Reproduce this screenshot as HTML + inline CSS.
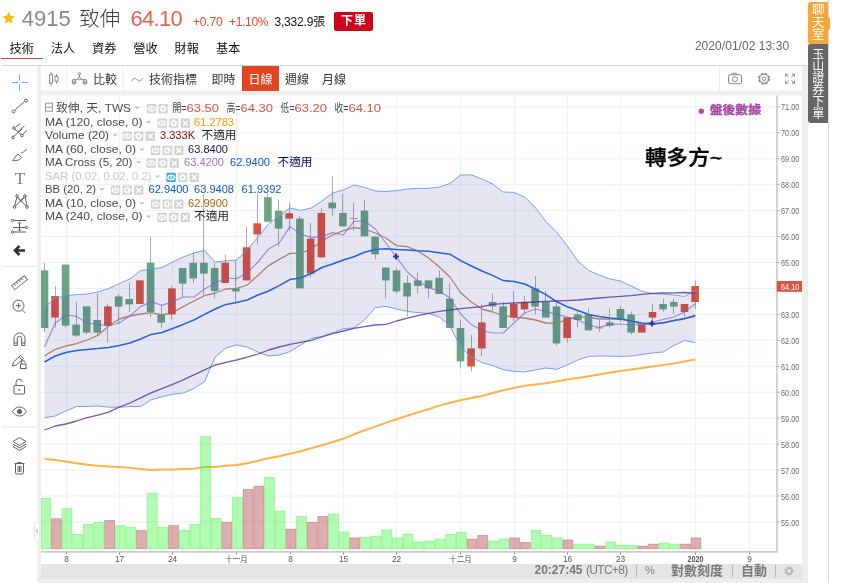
<!DOCTYPE html>
<html lang="zh-Hant">
<head>
<meta charset="utf-8">
<title>4915 致伸 - 技術分析</title>
<style>
*{box-sizing:border-box;margin:0;padding:0}
html,body{width:845px;height:583px;overflow:hidden;background:#fff}
body{position:relative;font-family:"Liberation Sans","Noto Sans CJK TC","Noto Sans CJK SC",sans-serif;font-size:12px;color:#333}
.abs{position:absolute;white-space:nowrap;line-height:1}
#hdr .code{left:21.8px;top:7.8px;font-size:22px;color:#8a8a8a}
#hdr .name{left:79.200px;top:8.800px;font-size:20.500px;color:#3a3a3a;font-weight:300}
#hdr .price{left:130.5px;top:7.8px;font-size:22px;color:#e8614a;letter-spacing:-.7px}
#hdr .chg{left:193px;top:16px;font-size:12px;color:#e34a28;letter-spacing:-.2px}
#hdr .chg2{left:229px;top:16px;font-size:12px;color:#e34a28;letter-spacing:-.3px}
#hdr .vol{left:274.5px;top:15.500px;font-size:12px;color:#111;letter-spacing:-.2px}
#hdr .order{left:334px;top:12px;width:38.800px;height:18.5px;background:#d0021b;color:#fff;font-weight:bold;font-size:12px;text-align:center;line-height:18px;border-radius:2px;letter-spacing:1px;text-indent:1px}
#tabs a{position:absolute;top:42.2px;margin-left:-.9px;height:16.8px;width:41.4px;text-align:center;font-size:12.2px;line-height:14px;color:#111;text-decoration:none;white-space:nowrap}
#tabs a.on{border-bottom:1px solid #e2434b}
#date{left:694.9px;top:40.2px;font-size:12px;color:#666;letter-spacing:.05px}
#side .chat{left:808px;top:2px;width:20.3px;height:42px;background:#f7a738;border-radius:3px 0 0 2px;color:#fff;font-size:12.500px;line-height:12.300px;text-align:center;padding-top:2.300px;white-space:normal}
#side .nub{left:827px;top:17px;width:3.2px;height:12.5px;background:#f7a738;border-radius:0 2px 2px 0}
#side .ord{left:808px;top:44px;width:20.3px;height:78.5px;background:#676567;border-radius:2px 0 0 3px;color:#fff;font-size:12px;line-height:11.9px;text-align:center;padding-top:5.5px;white-space:normal}
#side .vline{left:828px;top:0;width:1px;height:583px;background:#dadada}
#chart{position:absolute;left:0;top:0;width:845px;height:583px}
#chart text{font-family:"Liberation Sans","Noto Sans CJK TC","Noto Sans CJK SC",sans-serif}
#chart .ax{font-size:8.3px;fill:#6a6a6a}
#chart .tx{font-size:8.3px;fill:#555}
#chart .tx.b{font-weight:bold}
#chart .lg{font-size:11.5px}
.tb{top:66px;height:25px;line-height:29px;font-size:12px;color:#333}
.tb.on{background:#e0461f;color:#fff;text-align:center}
#foot span{top:563.2px;height:15px;line-height:15px;font-size:12px;color:#7a7a7a}
#foot .b{font-weight:bold}
</style>
</head>
<body>
<div id="hdr">
<svg class="abs" style="left:2px;top:11.3px" width="13.5" height="13.5" viewBox="0 0 24 24"><path d="M12 1.5l3.3 7 7.4 1-5.4 5.2 1.4 7.6L12 18.6 5.3 22.3l1.400-7.6L1.300 9.500l7.400-1z" fill="#fbb917"/></svg>
<span class="abs code">4915</span>
<span class="abs name">致伸</span>
<span class="abs price">64.10</span>
<span class="abs chg">+0.70</span>
<span class="abs chg2">+1.10%</span>
<span class="abs vol">3,332.9張</span>
<span class="abs order">下單</span>
</div>
<nav id="tabs">
<a class="on" style="left:2px">技術</a>
<a style="left:43.2px">法人</a>
<a style="left:84.4px">資券</a>
<a style="left:125.6px">營收</a>
<a style="left:167px">財報</a>
<a style="left:208.5px">基本</a>
</nav>
<span id="date" class="abs">2020/01/02 13:30</span>
<svg id="chart" width="845" height="583" viewBox="0 0 845 583">
<rect x="37.3" y="65.5" width="770.7" height="518" fill="#eeeeee"/>
<rect x="2" y="65" width="805" height="1" fill="#d4d8dc"/>
<rect x="40.9" y="66" width="25.2" height="24.8" rx="2" fill="#fff"/>
<rect x="40.9" y="66" width="25.2" height="6" fill="#fff"/>
<rect x="66.9" y="66" width="55.4" height="24.8" rx="2" fill="#fff"/>
<rect x="66.9" y="66" width="55.4" height="6" fill="#fff"/>
<rect x="123.3" y="66" width="595.7" height="24.8" rx="2" fill="#fff"/>
<rect x="123.3" y="66" width="595.7" height="6" fill="#fff"/>
<rect x="720" y="66" width="82" height="24.8" rx="2" fill="#fff"/>
<rect x="720" y="66" width="82" height="6" fill="#fff"/>
<rect x="40.9" y="95.5" width="761.1" height="468.4" rx="1.5" fill="#fff"/>
<rect x="41" y="563.9" width="761" height="15" fill="#e5e5e5"/>
<rect x="41" y="521.50" width="735.5" height="1" fill="#eaf2f7"/>
<rect x="41" y="495.55" width="735.5" height="1" fill="#eaf2f7"/>
<rect x="41" y="469.60" width="735.5" height="1" fill="#eaf2f7"/>
<rect x="41" y="443.65" width="735.5" height="1" fill="#eaf2f7"/>
<rect x="41" y="417.70" width="735.5" height="1" fill="#eaf2f7"/>
<rect x="41" y="391.75" width="735.5" height="1" fill="#eaf2f7"/>
<rect x="41" y="365.80" width="735.5" height="1" fill="#eaf2f7"/>
<rect x="41" y="339.85" width="735.5" height="1" fill="#eaf2f7"/>
<rect x="41" y="313.90" width="735.5" height="1" fill="#eaf2f7"/>
<rect x="41" y="287.95" width="735.5" height="1" fill="#eaf2f7"/>
<rect x="41" y="262.00" width="735.5" height="1" fill="#eaf2f7"/>
<rect x="41" y="236.05" width="735.5" height="1" fill="#eaf2f7"/>
<rect x="41" y="210.10" width="735.5" height="1" fill="#eaf2f7"/>
<rect x="41" y="184.15" width="735.5" height="1" fill="#eaf2f7"/>
<rect x="41" y="158.20" width="735.5" height="1" fill="#eaf2f7"/>
<rect x="41" y="132.25" width="735.5" height="1" fill="#eaf2f7"/>
<rect x="41" y="106.30" width="735.5" height="1" fill="#eaf2f7"/>
<rect x="66" y="95.4" width="1" height="454" fill="#ecf2f7"/>
<rect x="119" y="95.4" width="1" height="454" fill="#ecf2f7"/>
<rect x="172" y="95.4" width="1" height="454" fill="#ecf2f7"/>
<rect x="236" y="95.4" width="1" height="454" fill="#ecf2f7"/>
<rect x="290" y="95.4" width="1" height="454" fill="#ecf2f7"/>
<rect x="343" y="95.4" width="1" height="454" fill="#ecf2f7"/>
<rect x="396" y="95.4" width="1" height="454" fill="#ecf2f7"/>
<rect x="460" y="95.4" width="1" height="454" fill="#ecf2f7"/>
<rect x="514" y="95.4" width="1" height="454" fill="#ecf2f7"/>
<rect x="567" y="95.4" width="1" height="454" fill="#ecf2f7"/>
<rect x="620" y="95.4" width="1" height="454" fill="#ecf2f7"/>
<rect x="695" y="95.4" width="1" height="454" fill="#ecf2f7"/>
<rect x="749" y="95.4" width="1" height="454" fill="#ecf2f7"/>
<g id="pane">
<polyline points="44.5,459 55.2,460 65.9,461.5 76.6,463.2 87.2,464.7 97.9,465.7 108.6,466.4 119.2,467 129.9,467.7 140.6,469 151.2,470 161.9,469.4 172.6,469.4 183.2,469 193.9,468.7 204.6,467 215.2,467 225.9,465.7 236.6,465 247.2,463.2 257.9,460.8 268.6,458.2 279.2,456.2 289.9,453.8 300.6,451.2 311.2,448.2 321.9,445.2 332.6,442 343.3,438.8 353.9,434.3 364.6,430.3 375.3,426.6 385.9,422.9 396.6,419.2 407.3,415.7 417.9,412.4 428.6,409.2 439.3,405.6 449.9,402.8 460.6,400.2 471.3,398 481.9,396 492.6,393 503.3,390.2 513.9,388 524.6,385.8 535.3,384.5 545.9,383.2 556.6,381.4 567.3,379.5 577.9,377.9 588.6,376.2 599.3,374.4 610,372.5 620.6,371 631.3,369.5 642,368 652.6,366.5 663.3,365 674,363.5 684.6,361.6 695.3,359.6" fill="none" stroke="#ffb24a" stroke-width="2" stroke-linejoin="round"/>
<rect x="41.4" y="498.3" width="9.2" height="50.5" fill="rgba(30,245,25,0.34)" stroke="rgba(30,230,25,0.35)" stroke-width="0.8"/>
<rect x="51.4" y="518.7" width="9.9" height="30.1" fill="rgba(170,45,50,0.39)" stroke="rgba(160,40,45,0.35)" stroke-width="0.8"/>
<rect x="62" y="508.7" width="9.9" height="40.1" fill="rgba(30,245,25,0.34)" stroke="rgba(30,230,25,0.35)" stroke-width="0.8"/>
<rect x="72.7" y="534.4" width="9.9" height="14.4" fill="rgba(30,245,25,0.34)" stroke="rgba(30,230,25,0.35)" stroke-width="0.8"/>
<rect x="83.3" y="524.4" width="9.9" height="24.4" fill="rgba(30,245,25,0.34)" stroke="rgba(30,230,25,0.35)" stroke-width="0.8"/>
<rect x="94" y="522.4" width="9.9" height="26.4" fill="rgba(30,245,25,0.34)" stroke="rgba(30,230,25,0.35)" stroke-width="0.8"/>
<rect x="104.7" y="520.4" width="9.9" height="28.4" fill="rgba(170,45,50,0.39)" stroke="rgba(160,40,45,0.35)" stroke-width="0.8"/>
<rect x="115.3" y="525.6" width="9.9" height="23.2" fill="rgba(30,245,25,0.34)" stroke="rgba(30,230,25,0.35)" stroke-width="0.8"/>
<rect x="126" y="527.4" width="9.9" height="21.4" fill="rgba(30,245,25,0.34)" stroke="rgba(30,230,25,0.35)" stroke-width="0.8"/>
<rect x="136.6" y="530.4" width="9.9" height="18.4" fill="rgba(170,45,50,0.39)" stroke="rgba(160,40,45,0.35)" stroke-width="0.8"/>
<rect x="147.3" y="493.4" width="9.9" height="55.4" fill="rgba(30,245,25,0.34)" stroke="rgba(30,230,25,0.35)" stroke-width="0.8"/>
<rect x="158" y="527.4" width="9.9" height="21.4" fill="rgba(30,245,25,0.34)" stroke="rgba(30,230,25,0.35)" stroke-width="0.8"/>
<rect x="168.6" y="525.6" width="9.9" height="23.2" fill="rgba(170,45,50,0.39)" stroke="rgba(160,40,45,0.35)" stroke-width="0.8"/>
<rect x="179.3" y="530.4" width="9.9" height="18.4" fill="rgba(30,245,25,0.34)" stroke="rgba(30,230,25,0.35)" stroke-width="0.8"/>
<rect x="189.9" y="524.4" width="9.9" height="24.4" fill="rgba(30,245,25,0.34)" stroke="rgba(30,230,25,0.35)" stroke-width="0.8"/>
<rect x="200.6" y="436.6" width="9.9" height="112.2" fill="rgba(30,245,25,0.34)" stroke="rgba(30,230,25,0.35)" stroke-width="0.8"/>
<rect x="211.3" y="518.4" width="9.9" height="30.4" fill="rgba(30,245,25,0.34)" stroke="rgba(30,230,25,0.35)" stroke-width="0.8"/>
<rect x="221.9" y="522.4" width="9.9" height="26.4" fill="rgba(170,45,50,0.39)" stroke="rgba(160,40,45,0.35)" stroke-width="0.8"/>
<rect x="232.6" y="497.4" width="9.9" height="51.4" fill="rgba(30,245,25,0.34)" stroke="rgba(30,230,25,0.35)" stroke-width="0.8"/>
<rect x="243.2" y="489.4" width="9.9" height="59.4" fill="rgba(170,45,50,0.39)" stroke="rgba(160,40,45,0.35)" stroke-width="0.8"/>
<rect x="253.9" y="486.1" width="9.9" height="62.6" fill="rgba(170,45,50,0.39)" stroke="rgba(160,40,45,0.35)" stroke-width="0.8"/>
<rect x="264.6" y="477.4" width="9.9" height="71.4" fill="rgba(30,245,25,0.34)" stroke="rgba(30,230,25,0.35)" stroke-width="0.8"/>
<rect x="275.2" y="511.1" width="9.9" height="37.6" fill="rgba(30,245,25,0.34)" stroke="rgba(30,230,25,0.35)" stroke-width="0.8"/>
<rect x="285.9" y="529.1" width="9.9" height="19.6" fill="rgba(170,45,50,0.39)" stroke="rgba(160,40,45,0.35)" stroke-width="0.8"/>
<rect x="296.5" y="516.4" width="9.9" height="32.4" fill="rgba(30,245,25,0.34)" stroke="rgba(30,230,25,0.35)" stroke-width="0.8"/>
<rect x="307.2" y="522.4" width="9.9" height="26.4" fill="rgba(170,45,50,0.39)" stroke="rgba(160,40,45,0.35)" stroke-width="0.8"/>
<rect x="317.9" y="516.4" width="9.9" height="32.4" fill="rgba(170,45,50,0.39)" stroke="rgba(160,40,45,0.35)" stroke-width="0.8"/>
<rect x="328.5" y="514.1" width="9.9" height="34.6" fill="rgba(30,245,25,0.34)" stroke="rgba(30,230,25,0.35)" stroke-width="0.8"/>
<rect x="339.2" y="531.9" width="9.9" height="16.9" fill="rgba(30,245,25,0.34)" stroke="rgba(30,230,25,0.35)" stroke-width="0.8"/>
<rect x="349.8" y="537.9" width="9.9" height="10.9" fill="rgba(170,45,50,0.39)" stroke="rgba(160,40,45,0.35)" stroke-width="0.8"/>
<rect x="360.5" y="537.4" width="9.9" height="11.4" fill="rgba(30,245,25,0.34)" stroke="rgba(30,230,25,0.35)" stroke-width="0.8"/>
<rect x="371.2" y="536.1" width="9.9" height="12.6" fill="rgba(30,245,25,0.34)" stroke="rgba(30,230,25,0.35)" stroke-width="0.8"/>
<rect x="381.8" y="529.9" width="9.9" height="18.9" fill="rgba(30,245,25,0.34)" stroke="rgba(30,230,25,0.35)" stroke-width="0.8"/>
<rect x="392.5" y="537.9" width="9.9" height="10.9" fill="rgba(30,245,25,0.34)" stroke="rgba(30,230,25,0.35)" stroke-width="0.8"/>
<rect x="403.1" y="534.1" width="9.9" height="14.6" fill="rgba(30,245,25,0.34)" stroke="rgba(30,230,25,0.35)" stroke-width="0.8"/>
<rect x="413.8" y="541.9" width="9.9" height="6.9" fill="rgba(30,245,25,0.34)" stroke="rgba(30,230,25,0.35)" stroke-width="0.8"/>
<rect x="424.5" y="541.1" width="9.9" height="7.6" fill="rgba(30,245,25,0.34)" stroke="rgba(30,230,25,0.35)" stroke-width="0.8"/>
<rect x="435.1" y="539.1" width="9.9" height="9.6" fill="rgba(30,245,25,0.34)" stroke="rgba(30,230,25,0.35)" stroke-width="0.8"/>
<rect x="445.8" y="534.4" width="9.9" height="14.4" fill="rgba(30,245,25,0.34)" stroke="rgba(30,230,25,0.35)" stroke-width="0.8"/>
<rect x="456.4" y="532.4" width="9.9" height="16.4" fill="rgba(30,245,25,0.34)" stroke="rgba(30,230,25,0.35)" stroke-width="0.8"/>
<rect x="467.1" y="539.1" width="9.9" height="9.6" fill="rgba(170,45,50,0.39)" stroke="rgba(160,40,45,0.35)" stroke-width="0.8"/>
<rect x="477.8" y="535.4" width="9.9" height="13.4" fill="rgba(170,45,50,0.39)" stroke="rgba(160,40,45,0.35)" stroke-width="0.8"/>
<rect x="488.4" y="541.1" width="9.9" height="7.6" fill="rgba(30,245,25,0.34)" stroke="rgba(30,230,25,0.35)" stroke-width="0.8"/>
<rect x="499.1" y="539.1" width="9.9" height="9.6" fill="rgba(30,245,25,0.34)" stroke="rgba(30,230,25,0.35)" stroke-width="0.8"/>
<rect x="509.7" y="537.9" width="9.9" height="10.9" fill="rgba(170,45,50,0.39)" stroke="rgba(160,40,45,0.35)" stroke-width="0.8"/>
<rect x="520.4" y="542.4" width="9.9" height="6.4" fill="rgba(170,45,50,0.39)" stroke="rgba(160,40,45,0.35)" stroke-width="0.8"/>
<rect x="531.1" y="530.4" width="9.9" height="18.4" fill="rgba(30,245,25,0.34)" stroke="rgba(30,230,25,0.35)" stroke-width="0.8"/>
<rect x="541.7" y="535.4" width="9.9" height="13.4" fill="rgba(30,245,25,0.34)" stroke="rgba(30,230,25,0.35)" stroke-width="0.8"/>
<rect x="552.4" y="537.9" width="9.9" height="10.9" fill="rgba(30,245,25,0.34)" stroke="rgba(30,230,25,0.35)" stroke-width="0.8"/>
<rect x="563" y="539.9" width="9.9" height="8.9" fill="rgba(170,45,50,0.39)" stroke="rgba(160,40,45,0.35)" stroke-width="0.8"/>
<rect x="573.7" y="544.1" width="9.9" height="4.6" fill="rgba(30,245,25,0.34)" stroke="rgba(30,230,25,0.35)" stroke-width="0.8"/>
<rect x="584.4" y="544.1" width="9.9" height="4.6" fill="rgba(30,245,25,0.34)" stroke="rgba(30,230,25,0.35)" stroke-width="0.8"/>
<rect x="595" y="546.1" width="9.9" height="2.6" fill="rgba(170,45,50,0.39)" stroke="rgba(160,40,45,0.35)" stroke-width="0.8"/>
<rect x="605.7" y="541.9" width="9.9" height="6.9" fill="rgba(30,245,25,0.34)" stroke="rgba(30,230,25,0.35)" stroke-width="0.8"/>
<rect x="616.3" y="545.4" width="9.9" height="3.4" fill="rgba(30,245,25,0.34)" stroke="rgba(30,230,25,0.35)" stroke-width="0.8"/>
<rect x="627" y="545.4" width="9.9" height="3.4" fill="rgba(30,245,25,0.34)" stroke="rgba(30,230,25,0.35)" stroke-width="0.8"/>
<rect x="637.7" y="546.1" width="9.9" height="2.6" fill="rgba(170,45,50,0.39)" stroke="rgba(160,40,45,0.35)" stroke-width="0.8"/>
<rect x="648.3" y="544.1" width="9.9" height="4.6" fill="rgba(170,45,50,0.39)" stroke="rgba(160,40,45,0.35)" stroke-width="0.8"/>
<rect x="659" y="543.1" width="9.9" height="5.6" fill="rgba(30,245,25,0.34)" stroke="rgba(30,230,25,0.35)" stroke-width="0.8"/>
<rect x="669.6" y="544.1" width="9.9" height="4.6" fill="rgba(30,245,25,0.34)" stroke="rgba(30,230,25,0.35)" stroke-width="0.8"/>
<rect x="680.3" y="544.1" width="9.9" height="4.6" fill="rgba(170,45,50,0.39)" stroke="rgba(160,40,45,0.35)" stroke-width="0.8"/>
<rect x="691" y="537.9" width="9.9" height="10.9" fill="rgba(170,45,50,0.39)" stroke="rgba(160,40,45,0.35)" stroke-width="0.8"/>
<polyline points="44.5,356 55.2,349.4 65.9,346 76.6,343.6 87.2,340 97.9,335.4 108.6,326 119.2,319 129.9,316 140.6,314 151.2,312.6 161.9,315 172.6,312.6 183.2,306.6 193.9,301 204.6,295.6 215.2,293 225.9,289 236.6,288.4 247.2,285 257.9,275.4 268.6,265.6 279.2,259.4 289.9,253.4 300.6,253.4 311.2,249 321.9,241 332.6,235 343.3,230.6 353.9,227.6 364.6,229 375.3,233 385.9,238 396.6,245.6 407.3,246.6 417.9,251 428.6,258 439.3,267 449.9,277 460.6,292.5 471.3,302 481.9,309 492.6,312 503.3,315.6 513.9,317.4 524.6,318 535.3,320 545.9,323 556.6,323.4 567.3,319.4 577.9,316.6 588.6,317.4 599.3,319 610,319 620.6,319 631.3,321 642,324.4 652.6,324 663.3,322.4 674,320.6 684.6,319 695.3,314.9" fill="none" stroke="#c48f64" stroke-width="1.3" stroke-linejoin="round"/>
<rect x="44" y="263" width="1" height="69" fill="#acacaf"/>
<rect x="41" y="270.4" width="7.3" height="57.6" fill="#6ba583"/>
<rect x="55" y="286" width="1" height="41.6" fill="#acacaf"/>
<rect x="51.2" y="296" width="7.6" height="21.6" fill="#d75442"/>
<rect x="65" y="264.6" width="1" height="63" fill="#acacaf"/>
<rect x="61.8" y="264.6" width="7.6" height="61" fill="#6ba583"/>
<rect x="76" y="302" width="1" height="35" fill="#acacaf"/>
<rect x="72.3" y="324.6" width="7.6" height="11" fill="#6ba583"/>
<rect x="86" y="306.4" width="1" height="28.2" fill="#acacaf"/>
<rect x="82.9" y="306.4" width="7.6" height="26.2" fill="#6ba583"/>
<rect x="97" y="293.6" width="1" height="41.4" fill="#acacaf"/>
<rect x="93.4" y="320" width="7.6" height="12.6" fill="#6ba583"/>
<rect x="107" y="304" width="1" height="38.4" fill="#acacaf"/>
<rect x="104.1" y="306.4" width="7.6" height="19.2" fill="#d75442"/>
<rect x="118" y="294" width="1" height="30" fill="#acacaf"/>
<rect x="114.8" y="296.4" width="7.6" height="10.2" fill="#6ba583"/>
<rect x="129" y="283" width="1" height="29" fill="#acacaf"/>
<rect x="125.4" y="299" width="7.6" height="5.4" fill="#6ba583"/>
<rect x="139" y="280.4" width="1" height="23.6" fill="#acacaf"/>
<rect x="136.1" y="280.4" width="7.6" height="23.6" fill="#d75442"/>
<rect x="150" y="236.7" width="1" height="80.3" fill="#acacaf"/>
<rect x="146.8" y="262.6" width="7.6" height="49.4" fill="#6ba583"/>
<rect x="161" y="306" width="1" height="22" fill="#acacaf"/>
<rect x="157.4" y="314.4" width="7.6" height="8.2" fill="#6ba583"/>
<rect x="171" y="286" width="1" height="33.6" fill="#acacaf"/>
<rect x="168.1" y="288.4" width="7.6" height="26" fill="#d75442"/>
<rect x="182" y="268" width="1" height="29" fill="#acacaf"/>
<rect x="178.8" y="268" width="7.6" height="15.6" fill="#6ba583"/>
<rect x="193" y="252.5" width="1" height="30.5" fill="#acacaf"/>
<rect x="189.4" y="262.8" width="7.6" height="15.6" fill="#6ba583"/>
<rect x="203" y="194" width="1" height="101" fill="#acacaf"/>
<rect x="200.1" y="262.8" width="7.6" height="10.8" fill="#6ba583"/>
<rect x="214" y="262.8" width="1" height="35.2" fill="#acacaf"/>
<rect x="210.8" y="268" width="7.6" height="23" fill="#6ba583"/>
<rect x="225" y="254.5" width="1" height="28.5" fill="#acacaf"/>
<rect x="221.4" y="262.8" width="7.6" height="20.2" fill="#d75442"/>
<rect x="235" y="260" width="1" height="43" fill="#acacaf"/>
<rect x="232.1" y="288.4" width="7.6" height="3" fill="#6ba583"/>
<rect x="246" y="226.7" width="1" height="53.7" fill="#acacaf"/>
<rect x="242.8" y="247.3" width="7.6" height="33.1" fill="#d75442"/>
<rect x="257" y="192.5" width="1" height="52.1" fill="#acacaf"/>
<rect x="253.4" y="223.3" width="7.6" height="11.2" fill="#d75442"/>
<rect x="267" y="193.3" width="1" height="28.4" fill="#acacaf"/>
<rect x="264.1" y="197.2" width="7.6" height="24.5" fill="#6ba583"/>
<rect x="278" y="200" width="1" height="46.6" fill="#acacaf"/>
<rect x="274.8" y="210.7" width="7.6" height="17.9" fill="#6ba583"/>
<rect x="289" y="202.5" width="1" height="28.1" fill="#acacaf"/>
<rect x="285.4" y="213.2" width="7.6" height="5.5" fill="#d75442"/>
<rect x="299" y="216" width="1" height="72.4" fill="#acacaf"/>
<rect x="296.1" y="218.6" width="7.6" height="69.8" fill="#6ba583"/>
<rect x="310" y="223" width="1" height="54.6" fill="#acacaf"/>
<rect x="306.9" y="238.6" width="7.6" height="35" fill="#d75442"/>
<rect x="321" y="208" width="1" height="49.4" fill="#acacaf"/>
<rect x="317.6" y="213" width="7.6" height="44.4" fill="#d75442"/>
<rect x="332" y="176.5" width="1" height="39.1" fill="#acacaf"/>
<rect x="328.4" y="202.6" width="7.6" height="5.8" fill="#6ba583"/>
<rect x="342" y="194" width="1" height="32.4" fill="#acacaf"/>
<rect x="339.1" y="213" width="7.6" height="13.4" fill="#6ba583"/>
<rect x="353" y="202.6" width="1" height="28" fill="#acacaf"/>
<rect x="349.9" y="218" width="7.6" height="1" fill="#e28a84"/>
<rect x="364" y="200" width="1" height="36.4" fill="#acacaf"/>
<rect x="360.7" y="210.6" width="7.6" height="25.8" fill="#6ba583"/>
<rect x="375" y="236.6" width="1" height="22.8" fill="#acacaf"/>
<rect x="371.3" y="236.6" width="7.6" height="17.8" fill="#6ba583"/>
<rect x="385" y="267.6" width="1" height="30.8" fill="#acacaf"/>
<rect x="382" y="267.6" width="7.6" height="12.8" fill="#6ba583"/>
<rect x="396" y="267.6" width="1" height="26" fill="#acacaf"/>
<rect x="392.7" y="270.4" width="7.6" height="21" fill="#6ba583"/>
<rect x="407" y="275.6" width="1" height="40.8" fill="#acacaf"/>
<rect x="403.3" y="282.8" width="7.6" height="13.7" fill="#6ba583"/>
<rect x="417" y="272.6" width="1" height="21" fill="#acacaf"/>
<rect x="414" y="280.4" width="7.6" height="5.6" fill="#6ba583"/>
<rect x="428" y="280.4" width="1" height="18" fill="#acacaf"/>
<rect x="424.7" y="280.4" width="7.6" height="8" fill="#6ba583"/>
<rect x="439" y="270.6" width="1" height="23.4" fill="#acacaf"/>
<rect x="435.3" y="277.8" width="7.6" height="16.2" fill="#6ba583"/>
<rect x="449" y="282.8" width="1" height="45.2" fill="#acacaf"/>
<rect x="446" y="298.7" width="7.6" height="29.3" fill="#6ba583"/>
<rect x="460" y="320" width="1" height="48.4" fill="#acacaf"/>
<rect x="456.7" y="328" width="7.6" height="33.4" fill="#6ba583"/>
<rect x="471" y="335" width="1" height="36.4" fill="#acacaf"/>
<rect x="467.3" y="348.4" width="7.6" height="18" fill="#d75442"/>
<rect x="481" y="304" width="1" height="52" fill="#acacaf"/>
<rect x="478" y="322.4" width="7.6" height="26" fill="#d75442"/>
<rect x="492" y="293.6" width="1" height="18.4" fill="#acacaf"/>
<rect x="488.7" y="302" width="7.6" height="4.4" fill="#6ba583"/>
<rect x="503" y="302" width="1" height="26" fill="#acacaf"/>
<rect x="499.3" y="306.4" width="7.6" height="21.6" fill="#6ba583"/>
<rect x="513" y="291" width="1" height="30" fill="#acacaf"/>
<rect x="510" y="304" width="7.6" height="13.4" fill="#d75442"/>
<rect x="524" y="296" width="1" height="18" fill="#acacaf"/>
<rect x="520.7" y="302" width="7.6" height="7.4" fill="#d75442"/>
<rect x="535" y="276" width="1" height="38.4" fill="#acacaf"/>
<rect x="531.3" y="288.4" width="7.6" height="18.2" fill="#6ba583"/>
<rect x="545" y="291" width="1" height="26.6" fill="#acacaf"/>
<rect x="542" y="302" width="7.6" height="15.6" fill="#6ba583"/>
<rect x="556" y="301" width="1" height="44.6" fill="#acacaf"/>
<rect x="552.7" y="306.4" width="7.6" height="37" fill="#6ba583"/>
<rect x="567" y="317.4" width="1" height="25.2" fill="#acacaf"/>
<rect x="563.3" y="317.4" width="7.6" height="20.6" fill="#d75442"/>
<rect x="577" y="311" width="1" height="16.4" fill="#acacaf"/>
<rect x="574" y="314.4" width="7.6" height="5.6" fill="#6ba583"/>
<rect x="588" y="308.6" width="1" height="21.8" fill="#acacaf"/>
<rect x="584.7" y="314.4" width="7.6" height="16" fill="#6ba583"/>
<rect x="599" y="319.4" width="1" height="12.6" fill="#acacaf"/>
<rect x="595.3" y="327.5" width="7.6" height="1" fill="#e28a84"/>
<rect x="609" y="308.6" width="1" height="18.8" fill="#acacaf"/>
<rect x="606" y="322.4" width="7.6" height="3.2" fill="#6ba583"/>
<rect x="620" y="306" width="1" height="16" fill="#acacaf"/>
<rect x="616.7" y="309" width="7.6" height="11" fill="#6ba583"/>
<rect x="631" y="311.6" width="1" height="23" fill="#acacaf"/>
<rect x="627.3" y="314.4" width="7.6" height="18.2" fill="#6ba583"/>
<rect x="641" y="325" width="1" height="7.6" fill="#acacaf"/>
<rect x="638" y="325" width="7.6" height="7.6" fill="#d75442"/>
<rect x="652" y="303.6" width="1" height="21.4" fill="#acacaf"/>
<rect x="648.7" y="312" width="7.6" height="5.6" fill="#d75442"/>
<rect x="663" y="298.6" width="1" height="13" fill="#acacaf"/>
<rect x="659.3" y="304" width="7.6" height="5.4" fill="#6ba583"/>
<rect x="673" y="298.6" width="1" height="15.4" fill="#acacaf"/>
<rect x="670" y="302" width="7.6" height="4.6" fill="#6ba583"/>
<rect x="684" y="304" width="1" height="13" fill="#acacaf"/>
<rect x="680.7" y="304" width="7.6" height="8" fill="#d75442"/>
<rect x="695" y="280.5" width="1" height="28.5" fill="#acacaf"/>
<rect x="691.3" y="286" width="7.6" height="16" fill="#d75442"/>
<polygon points="44.5,307 55.2,298 65.9,296 76.6,294.6 87.2,294 97.9,292 108.6,288.6 119.2,283.6 129.9,279 140.6,270.6 151.2,269 161.9,267.6 172.6,262 183.2,257 193.9,253 204.6,250.4 215.2,262 225.9,261 236.6,260 247.2,250 257.9,237 268.6,224 279.2,216 289.9,208 300.6,210.4 311.2,208 321.9,201 332.6,193 343.3,190 353.9,185 364.6,187.4 375.3,191 385.9,191.5 396.6,190.6 407.3,189 417.9,188.4 428.6,188.4 439.3,187 449.9,183.5 460.6,175 471.3,174.8 481.9,179 492.6,184 503.3,192 513.9,192.4 524.6,197 535.3,207.5 545.9,221.5 556.6,232 567.3,246 577.9,261 588.6,270.5 599.3,275 610,279 620.6,281 631.3,286 642,291.4 652.6,293.6 663.3,294 674,295 684.6,296.4 695.3,290.3 695.3,342.7 684.6,340.5 674,345.4 663.3,352 652.6,353 642,354.4 631.3,356 620.6,356.4 610,356.2 599.3,356 588.6,356.4 577.9,360 567.3,365 556.6,369.4 545.9,368 535.3,370 524.6,372 513.9,371.4 503.3,369.6 492.6,365.6 481.9,362.6 471.3,357 460.6,347 449.9,326 439.3,317 428.6,313.4 417.9,312.6 407.3,311.4 396.6,309 385.9,306.4 375.3,307.6 364.6,320 353.9,328 343.3,328.6 332.6,333 321.9,336.4 311.2,338.4 300.6,345 289.9,351.6 279.2,355 268.6,356 257.9,352 247.2,347 236.6,345 225.9,348 215.2,357 204.6,381.6 193.9,388.6 183.2,393 172.6,394.3 161.9,396.8 151.2,399.8 140.6,406.5 129.9,406.5 119.2,407.2 108.6,407.2 97.9,406 87.2,406.5 76.6,406.5 65.9,411 55.2,416 44.5,417.7" fill="rgba(20,20,130,0.105)"/>
<polyline points="44.5,307 55.2,298 65.9,296 76.6,294.6 87.2,294 97.9,292 108.6,288.6 119.2,283.6 129.9,279 140.6,270.6 151.2,269 161.9,267.6 172.6,262 183.2,257 193.9,253 204.6,250.4 215.2,262 225.9,261 236.6,260 247.2,250 257.9,237 268.6,224 279.2,216 289.9,208 300.6,210.4 311.2,208 321.9,201 332.6,193 343.3,190 353.9,185 364.6,187.4 375.3,191 385.9,191.5 396.6,190.6 407.3,189 417.9,188.4 428.6,188.4 439.3,187 449.9,183.5 460.6,175 471.3,174.8 481.9,179 492.6,184 503.3,192 513.9,192.4 524.6,197 535.3,207.5 545.9,221.5 556.6,232 567.3,246 577.9,261 588.6,270.5 599.3,275 610,279 620.6,281 631.3,286 642,291.4 652.6,293.6 663.3,294 674,295 684.6,296.4 695.3,290.3" fill="none" stroke="#6496ea" stroke-width="0.9"/>
<polyline points="44.5,417.7 55.2,416 65.9,411 76.6,406.5 87.2,406.5 97.9,406 108.6,407.2 119.2,407.2 129.9,406.5 140.6,406.5 151.2,399.8 161.9,396.8 172.6,394.3 183.2,393 193.9,388.6 204.6,381.6 215.2,357 225.9,348 236.6,345 247.2,347 257.9,352 268.6,356 279.2,355 289.9,351.6 300.6,345 311.2,338.4 321.9,336.4 332.6,333 343.3,328.6 353.9,328 364.6,320 375.3,307.6 385.9,306.4 396.6,309 407.3,311.4 417.9,312.6 428.6,313.4 439.3,317 449.9,326 460.6,347 471.3,357 481.9,362.6 492.6,365.6 503.3,369.6 513.9,371.4 524.6,372 535.3,370 545.9,368 556.6,369.4 567.3,365 577.9,360 588.6,356.4 599.3,356 610,356.2 620.6,356.4 631.3,356 642,354.4 652.6,353 663.3,352 674,345.4 684.6,340.5 695.3,342.7" fill="none" stroke="#6496ea" stroke-width="0.9"/>
<polyline points="44.5,347 55.2,323 65.9,315 76.6,316.4 87.2,323 97.9,324.4 108.6,326 119.2,323 129.9,316 140.6,306.6 151.2,301.6 161.9,305.4 172.6,301.6 183.2,297 193.9,297 204.6,289 215.2,283 225.9,278 236.6,278.6 247.2,273 257.9,262 268.6,249 279.2,243 289.9,226.6 300.6,234 311.2,237.4 321.9,236.6 332.6,232.6 343.3,235 353.9,221.4 364.6,221 375.3,229 385.9,243 396.6,257.4 407.3,272 417.9,281 428.6,287.7 439.3,291 449.9,298 460.6,314 471.3,324.6 481.9,330.6 492.6,333 503.3,333 513.9,323 524.6,313 535.3,309 545.9,311.4 556.6,314.4 567.3,317 577.9,320 588.6,325 599.3,327.4 610,324.6 620.6,324 631.3,325 642,324.4 652.6,322 663.3,319.4 674,317 684.6,312 695.3,303.7" fill="none" stroke="rgba(122,92,202,0.66)" stroke-width="1.2" stroke-linejoin="round"/>
<polyline points="44.5,362 55.2,356 65.9,352.4 76.6,350.4 87.2,349.4 97.9,348.6 108.6,347.4 119.2,345.6 129.9,343 140.6,339 151.2,334.4 161.9,332.4 172.6,328.4 183.2,324.4 193.9,320 204.6,314.4 215.2,309 225.9,304.4 236.6,302.4 247.2,300 257.9,295 268.6,291 279.2,285.6 289.9,279.6 300.6,278 311.2,273.5 321.9,267.5 332.6,264 343.3,260 353.9,256.7 364.6,252.3 375.3,249.5 385.9,248.7 396.6,249.5 407.3,250 417.9,250.8 428.6,251.2 439.3,252.8 449.9,254.2 460.6,260.6 471.3,266 481.9,271 492.6,275.4 503.3,280.6 513.9,281.4 524.6,284 535.3,289 545.9,294.6 556.6,301.6 567.3,306.8 577.9,310.6 588.6,314.4 599.3,316.6 610,318 620.6,319 631.3,321 642,323 652.6,324 663.3,323 674,320.6 684.6,318.4 695.3,316.1" fill="none" stroke="#2563d8" stroke-width="1.55" stroke-linejoin="round"/>
<polyline points="44.5,430 55.2,426 65.9,424 76.6,421 87.2,417.7 97.9,415.2 108.6,412.2 119.2,407.2 129.9,403 140.6,397.8 151.2,392.8 161.9,388.6 172.6,384.3 183.2,379.9 193.9,374.9 204.6,369.9 215.2,365 225.9,362.4 236.6,360 247.2,357.2 257.9,354 268.6,350 279.2,347 289.9,344.4 300.6,342.4 311.2,340.4 321.9,337 332.6,333.6 343.3,331 353.9,328.4 364.6,326.6 375.3,325 385.9,324.4 396.6,321 407.3,318.2 417.9,315.6 428.6,313.4 439.3,311.4 449.9,310 460.6,308.6 471.3,307.6 481.9,306.6 492.6,304.4 503.3,303.7 513.9,303 524.6,302.5 535.3,302 545.9,301.4 556.6,301 567.3,300.6 577.9,300 588.6,299 599.3,298 610,297.2 620.6,296.4 631.3,295.6 642,294.4 652.6,293.4 663.3,293 674,292.8 684.6,292.5 695.3,293.1" fill="none" stroke="rgba(82,50,150,0.8)" stroke-width="1.3" stroke-linejoin="round"/>
<path d="M393 256.6h6M396 253.6v6" stroke="#33339c" stroke-width="2" fill="none"/>
<path d="M649 323.4h6M652 320.4v6" stroke="#33339c" stroke-width="2" fill="none"/>
</g>
<rect x="776.2" y="95.4" width="1.5" height="457" fill="#c6c6c6"/>
<rect x="41" y="551" width="736.7" height="1.7" fill="#cbcbcb"/>
<rect x="777.3" y="521.50" width="2" height="1" fill="#aaa"/>
<text x="781" y="525.60" class="ax" textLength="18.3" lengthAdjust="spacingAndGlyphs">55.00</text>
<rect x="777.3" y="495.55" width="2" height="1" fill="#aaa"/>
<text x="781" y="499.65" class="ax" textLength="18.3" lengthAdjust="spacingAndGlyphs">56.00</text>
<rect x="777.3" y="469.60" width="2" height="1" fill="#aaa"/>
<text x="781" y="473.70" class="ax" textLength="18.3" lengthAdjust="spacingAndGlyphs">57.00</text>
<rect x="777.3" y="443.65" width="2" height="1" fill="#aaa"/>
<text x="781" y="447.75" class="ax" textLength="18.3" lengthAdjust="spacingAndGlyphs">58.00</text>
<rect x="777.3" y="417.70" width="2" height="1" fill="#aaa"/>
<text x="781" y="421.80" class="ax" textLength="18.3" lengthAdjust="spacingAndGlyphs">59.00</text>
<rect x="777.3" y="391.75" width="2" height="1" fill="#aaa"/>
<text x="781" y="395.85" class="ax" textLength="18.3" lengthAdjust="spacingAndGlyphs">60.00</text>
<rect x="777.3" y="365.80" width="2" height="1" fill="#aaa"/>
<text x="781" y="369.90" class="ax" textLength="18.3" lengthAdjust="spacingAndGlyphs">61.00</text>
<rect x="777.3" y="339.85" width="2" height="1" fill="#aaa"/>
<text x="781" y="343.95" class="ax" textLength="18.3" lengthAdjust="spacingAndGlyphs">62.00</text>
<rect x="777.3" y="313.90" width="2" height="1" fill="#aaa"/>
<text x="781" y="318.00" class="ax" textLength="18.3" lengthAdjust="spacingAndGlyphs">63.00</text>
<rect x="777.3" y="287.95" width="2" height="1" fill="#aaa"/>
<rect x="777.3" y="262.00" width="2" height="1" fill="#aaa"/>
<text x="781" y="266.10" class="ax" textLength="18.3" lengthAdjust="spacingAndGlyphs">65.00</text>
<rect x="777.3" y="236.05" width="2" height="1" fill="#aaa"/>
<text x="781" y="240.15" class="ax" textLength="18.3" lengthAdjust="spacingAndGlyphs">66.00</text>
<rect x="777.3" y="210.10" width="2" height="1" fill="#aaa"/>
<text x="781" y="214.20" class="ax" textLength="18.3" lengthAdjust="spacingAndGlyphs">67.00</text>
<rect x="777.3" y="184.15" width="2" height="1" fill="#aaa"/>
<text x="781" y="188.25" class="ax" textLength="18.3" lengthAdjust="spacingAndGlyphs">68.00</text>
<rect x="777.3" y="158.20" width="2" height="1" fill="#aaa"/>
<text x="781" y="162.30" class="ax" textLength="18.3" lengthAdjust="spacingAndGlyphs">69.00</text>
<rect x="777.3" y="132.25" width="2" height="1" fill="#aaa"/>
<text x="781" y="136.35" class="ax" textLength="18.3" lengthAdjust="spacingAndGlyphs">70.00</text>
<rect x="777.3" y="106.30" width="2" height="1" fill="#aaa"/>
<text x="781" y="110.40" class="ax" textLength="18.3" lengthAdjust="spacingAndGlyphs">71.00</text>
<rect x="776.8" y="281" width="25.2" height="10.8" fill="#d75442"/>
<text x="781" y="289.6" class="ax" style="fill:#fff" textLength="18.3" lengthAdjust="spacingAndGlyphs">64.10</text>
<rect x="66" y="552.5" width="1" height="2" fill="#8a8a8a"/>
<text x="66.5" y="561.8" text-anchor="middle" class="tx">8</text>
<rect x="119" y="552.5" width="1" height="2" fill="#8a8a8a"/>
<text x="119.5" y="561.8" text-anchor="middle" class="tx">17</text>
<rect x="172" y="552.5" width="1" height="2" fill="#8a8a8a"/>
<text x="172.5" y="561.8" text-anchor="middle" class="tx">24</text>
<rect x="236" y="552.5" width="1" height="2" fill="#8a8a8a"/>
<text x="236.5" y="561.8" text-anchor="middle" class="tx" textLength="22.5" lengthAdjust="spacingAndGlyphs">十一月</text>
<rect x="290" y="552.5" width="1" height="2" fill="#8a8a8a"/>
<text x="290.5" y="561.8" text-anchor="middle" class="tx">8</text>
<rect x="343" y="552.5" width="1" height="2" fill="#8a8a8a"/>
<text x="343.5" y="561.8" text-anchor="middle" class="tx">15</text>
<rect x="396" y="552.5" width="1" height="2" fill="#8a8a8a"/>
<text x="396.5" y="561.8" text-anchor="middle" class="tx">22</text>
<rect x="460" y="552.5" width="1" height="2" fill="#8a8a8a"/>
<text x="460.5" y="561.8" text-anchor="middle" class="tx" textLength="22.5" lengthAdjust="spacingAndGlyphs">十二月</text>
<rect x="514" y="552.5" width="1" height="2" fill="#8a8a8a"/>
<text x="514.5" y="561.8" text-anchor="middle" class="tx">9</text>
<rect x="567" y="552.5" width="1" height="2" fill="#8a8a8a"/>
<text x="567.5" y="561.8" text-anchor="middle" class="tx">16</text>
<rect x="620" y="552.5" width="1" height="2" fill="#8a8a8a"/>
<text x="620.5" y="561.8" text-anchor="middle" class="tx">23</text>
<rect x="695" y="552.5" width="1" height="2" fill="#8a8a8a"/>
<text x="695.5" y="561.8" text-anchor="middle" class="tx b" textLength="16" lengthAdjust="spacingAndGlyphs">2020</text>
<rect x="749" y="552.5" width="1" height="2" fill="#8a8a8a"/>
<text x="749.5" y="561.8" text-anchor="middle" class="tx">9</text>
<rect x="45.5" y="103.2" width="7" height="8" fill="none" stroke="#999" stroke-width="1"/><path d="M46 107.2h6" stroke="#999" stroke-width="1"/>
<text x="56.0" y="111.7" class="lg" fill="#4a4a4a" textLength="75.0" lengthAdjust="spacingAndGlyphs">致伸, 天, TWS</text>
<path d="M134.5 106.7l2.5 2.5 2.5-2.500z" fill="#bdbdbd"/>
<rect x="147.0" y="104.1" width="9.2" height="9.2" rx="0.8" fill="#d1d1d1"/><ellipse cx="151.6" cy="108.7" rx="3.2" ry="2.3" fill="none" stroke="#fff" stroke-width="1.3"/><circle cx="151.6" cy="108.7" r="1.1" fill="#fff"/><rect x="158.6" y="104.1" width="9.2" height="9.2" rx="0.8" fill="#d1d1d1"/><circle cx="163.2" cy="108.7" r="2.800" fill="none" stroke="#fff" stroke-width="1.800" stroke-dasharray="1.300 0.900"/><circle cx="163.2" cy="108.7" r="1.900" fill="none" stroke="#fff" stroke-width="1.300"/>
<text x="172.5" y="111.7" class="lg" fill="#4a4a4a" textLength="14" lengthAdjust="spacingAndGlyphs">開=</text>
<text x="186.5" y="111.7" class="lg" fill="#d75442" textLength="32.5" lengthAdjust="spacingAndGlyphs">63.50</text>
<text x="226.5" y="111.7" class="lg" fill="#4a4a4a" textLength="14" lengthAdjust="spacingAndGlyphs">高=</text>
<text x="240.5" y="111.7" class="lg" fill="#d75442" textLength="32.5" lengthAdjust="spacingAndGlyphs">64.30</text>
<text x="280.5" y="111.7" class="lg" fill="#4a4a4a" textLength="14" lengthAdjust="spacingAndGlyphs">低=</text>
<text x="294.5" y="111.7" class="lg" fill="#d75442" textLength="32.5" lengthAdjust="spacingAndGlyphs">63.20</text>
<text x="334.5" y="111.7" class="lg" fill="#4a4a4a" textLength="14" lengthAdjust="spacingAndGlyphs">收=</text>
<text x="348.5" y="111.7" class="lg" fill="#d75442" textLength="32.5" lengthAdjust="spacingAndGlyphs">64.10</text>
<text x="45.0" y="126.2" class="lg" fill="#4a4a4a" textLength="97.5" lengthAdjust="spacingAndGlyphs">MA (120, close, 0)</text>
<path d="M146.0 121.2l2.5 2.5 2.5-2.500z" fill="#bdbdbd"/>
<rect x="157.5" y="118.6" width="9.2" height="9.2" rx="0.8" fill="#d1d1d1"/><ellipse cx="162.1" cy="123.2" rx="3.2" ry="2.3" fill="none" stroke="#fff" stroke-width="1.3"/><circle cx="162.1" cy="123.2" r="1.1" fill="#fff"/><rect x="169.1" y="118.6" width="9.2" height="9.2" rx="0.8" fill="#d1d1d1"/><circle cx="173.7" cy="123.2" r="2.800" fill="none" stroke="#fff" stroke-width="1.800" stroke-dasharray="1.300 0.900"/><circle cx="173.7" cy="123.2" r="1.900" fill="none" stroke="#fff" stroke-width="1.300"/><rect x="180.7" y="118.6" width="9.2" height="9.2" rx="0.8" fill="#d1d1d1"/><path d="M182.8 120.7l5 5m0-5l-5 5" stroke="#fff" stroke-width="1.500" fill="none"/>
<text x="194.0" y="126.2" class="lg" fill="#ff9900" textLength="40.0" lengthAdjust="spacingAndGlyphs">61.2783</text>
<text x="45.0" y="139.2" class="lg" fill="#4a4a4a" textLength="64.0" lengthAdjust="spacingAndGlyphs">Volume (20)</text>
<path d="M112.5 134.2l2.5 2.5 2.5-2.500z" fill="#bdbdbd"/>
<rect x="122.5" y="131.6" width="9.2" height="9.2" rx="0.8" fill="#d1d1d1"/><ellipse cx="127.1" cy="136.2" rx="3.2" ry="2.3" fill="none" stroke="#fff" stroke-width="1.3"/><circle cx="127.1" cy="136.2" r="1.1" fill="#fff"/><rect x="134.1" y="131.6" width="9.2" height="9.2" rx="0.8" fill="#d1d1d1"/><circle cx="138.7" cy="136.2" r="2.800" fill="none" stroke="#fff" stroke-width="1.800" stroke-dasharray="1.300 0.900"/><circle cx="138.7" cy="136.2" r="1.900" fill="none" stroke="#fff" stroke-width="1.300"/><rect x="145.7" y="131.6" width="9.2" height="9.2" rx="0.8" fill="#d1d1d1"/><path d="M147.8 133.7l5 5m0-5l-5 5" stroke="#fff" stroke-width="1.500" fill="none"/>
<text x="160.0" y="139.2" class="lg" fill="#990000" textLength="35.0" lengthAdjust="spacingAndGlyphs">3.333K</text>
<text x="201.5" y="139.2" class="lg" fill="#222" textLength="35" lengthAdjust="spacingAndGlyphs">不適用</text>
<text x="45.0" y="153.4" class="lg" fill="#4a4a4a" textLength="91.0" lengthAdjust="spacingAndGlyphs">MA (60, close, 0)</text>
<path d="M139.5 148.4l2.5 2.5 2.5-2.500z" fill="#bdbdbd"/>
<rect x="151.0" y="145.8" width="9.2" height="9.2" rx="0.8" fill="#d1d1d1"/><ellipse cx="155.6" cy="150.4" rx="3.2" ry="2.3" fill="none" stroke="#fff" stroke-width="1.3"/><circle cx="155.6" cy="150.4" r="1.1" fill="#fff"/><rect x="162.6" y="145.8" width="9.2" height="9.2" rx="0.8" fill="#d1d1d1"/><circle cx="167.2" cy="150.4" r="2.800" fill="none" stroke="#fff" stroke-width="1.800" stroke-dasharray="1.300 0.900"/><circle cx="167.2" cy="150.4" r="1.900" fill="none" stroke="#fff" stroke-width="1.300"/><rect x="174.2" y="145.8" width="9.2" height="9.2" rx="0.8" fill="#d1d1d1"/><path d="M176.3 147.9l5 5m0-5l-5 5" stroke="#fff" stroke-width="1.500" fill="none"/>
<text x="188.0" y="153.4" class="lg" fill="#20124d" textLength="40.0" lengthAdjust="spacingAndGlyphs">63.8400</text>
<text x="45.0" y="166.2" class="lg" fill="#4a4a4a" textLength="87.5" lengthAdjust="spacingAndGlyphs">MA Cross (5, 20)</text>
<path d="M136.0 161.2l2.5 2.5 2.5-2.500z" fill="#bdbdbd"/>
<rect x="146.5" y="158.6" width="9.2" height="9.2" rx="0.8" fill="#d1d1d1"/><ellipse cx="151.1" cy="163.2" rx="3.2" ry="2.3" fill="none" stroke="#fff" stroke-width="1.3"/><circle cx="151.1" cy="163.2" r="1.1" fill="#fff"/><rect x="158.1" y="158.6" width="9.2" height="9.2" rx="0.8" fill="#d1d1d1"/><circle cx="162.7" cy="163.2" r="2.800" fill="none" stroke="#fff" stroke-width="1.800" stroke-dasharray="1.300 0.900"/><circle cx="162.7" cy="163.2" r="1.900" fill="none" stroke="#fff" stroke-width="1.300"/><rect x="169.7" y="158.6" width="9.2" height="9.2" rx="0.8" fill="#d1d1d1"/><path d="M171.8 160.7l5 5m0-5l-5 5" stroke="#fff" stroke-width="1.500" fill="none"/>
<text x="184.0" y="166.2" class="lg" fill="#8e7cc3" textLength="40.0" lengthAdjust="spacingAndGlyphs">63.4200</text>
<text x="230.0" y="166.2" class="lg" fill="#1155cc" textLength="40.0" lengthAdjust="spacingAndGlyphs">62.9400</text>
<text x="277.5" y="166.2" class="lg" fill="#000080" textLength="35" lengthAdjust="spacingAndGlyphs">不適用</text>
<text x="45.0" y="180.4" class="lg" fill="#c8c8d0" textLength="106.5" lengthAdjust="spacingAndGlyphs">SAR (0.02, 0.02, 0.2)</text>
<path d="M155.0 175.4l2.5 2.5 2.5-2.500z" fill="#bdbdbd"/>
<rect x="166.5" y="172.8" width="9.2" height="9.2" rx="0.8" fill="#3aa3e0"/><ellipse cx="171.1" cy="177.4" rx="3.2" ry="2.3" fill="none" stroke="#fff" stroke-width="1.3"/><circle cx="171.1" cy="177.4" r="1.1" fill="#fff"/><rect x="178.1" y="172.8" width="9.2" height="9.2" rx="0.8" fill="#d1d1d1"/><circle cx="182.7" cy="177.4" r="2.800" fill="none" stroke="#fff" stroke-width="1.800" stroke-dasharray="1.300 0.900"/><circle cx="182.7" cy="177.4" r="1.900" fill="none" stroke="#fff" stroke-width="1.300"/><rect x="189.7" y="172.8" width="9.2" height="9.2" rx="0.8" fill="#d1d1d1"/><path d="M191.8 174.9l5 5m0-5l-5 5" stroke="#fff" stroke-width="1.500" fill="none"/>
<text x="45.0" y="193.2" class="lg" fill="#4a4a4a" textLength="51.0" lengthAdjust="spacingAndGlyphs">BB (20, 2)</text>
<path d="M99.5 188.2l2.5 2.5 2.5-2.500z" fill="#bdbdbd"/>
<rect x="111.0" y="185.6" width="9.2" height="9.2" rx="0.8" fill="#d1d1d1"/><ellipse cx="115.6" cy="190.2" rx="3.2" ry="2.3" fill="none" stroke="#fff" stroke-width="1.3"/><circle cx="115.6" cy="190.2" r="1.1" fill="#fff"/><rect x="122.6" y="185.6" width="9.2" height="9.2" rx="0.8" fill="#d1d1d1"/><circle cx="127.2" cy="190.2" r="2.800" fill="none" stroke="#fff" stroke-width="1.800" stroke-dasharray="1.300 0.900"/><circle cx="127.2" cy="190.2" r="1.900" fill="none" stroke="#fff" stroke-width="1.300"/><rect x="134.2" y="185.6" width="9.2" height="9.2" rx="0.8" fill="#d1d1d1"/><path d="M136.3 187.7l5 5m0-5l-5 5" stroke="#fff" stroke-width="1.500" fill="none"/>
<text x="148.5" y="193.2" class="lg" fill="#1155cc" textLength="40.0" lengthAdjust="spacingAndGlyphs">62.9400</text>
<text x="194.0" y="193.2" class="lg" fill="#1155cc" textLength="40.0" lengthAdjust="spacingAndGlyphs">63.9408</text>
<text x="241.5" y="193.2" class="lg" fill="#1155cc" textLength="40.0" lengthAdjust="spacingAndGlyphs">61.9392</text>
<text x="45.0" y="207.2" class="lg" fill="#4a4a4a" textLength="91.0" lengthAdjust="spacingAndGlyphs">MA (10, close, 0)</text>
<path d="M139.5 202.2l2.5 2.5 2.5-2.500z" fill="#bdbdbd"/>
<rect x="151.0" y="199.6" width="9.2" height="9.2" rx="0.8" fill="#d1d1d1"/><ellipse cx="155.6" cy="204.2" rx="3.2" ry="2.3" fill="none" stroke="#fff" stroke-width="1.3"/><circle cx="155.6" cy="204.2" r="1.1" fill="#fff"/><rect x="162.6" y="199.6" width="9.2" height="9.2" rx="0.8" fill="#d1d1d1"/><circle cx="167.2" cy="204.2" r="2.800" fill="none" stroke="#fff" stroke-width="1.800" stroke-dasharray="1.300 0.900"/><circle cx="167.2" cy="204.2" r="1.900" fill="none" stroke="#fff" stroke-width="1.300"/><rect x="174.2" y="199.6" width="9.2" height="9.2" rx="0.8" fill="#d1d1d1"/><path d="M176.3 201.7l5 5m0-5l-5 5" stroke="#fff" stroke-width="1.500" fill="none"/>
<text x="188.0" y="207.2" class="lg" fill="#b45f06" textLength="40.0" lengthAdjust="spacingAndGlyphs">62.9900</text>
<text x="45.0" y="220.4" class="lg" fill="#4a4a4a" textLength="97.5" lengthAdjust="spacingAndGlyphs">MA (240, close, 0)</text>
<path d="M146.0 215.4l2.5 2.5 2.5-2.500z" fill="#bdbdbd"/>
<rect x="157.5" y="212.8" width="9.2" height="9.2" rx="0.8" fill="#d1d1d1"/><ellipse cx="162.1" cy="217.4" rx="3.2" ry="2.3" fill="none" stroke="#fff" stroke-width="1.3"/><circle cx="162.1" cy="217.4" r="1.1" fill="#fff"/><rect x="169.1" y="212.8" width="9.2" height="9.2" rx="0.8" fill="#d1d1d1"/><circle cx="173.7" cy="217.4" r="2.800" fill="none" stroke="#fff" stroke-width="1.800" stroke-dasharray="1.300 0.900"/><circle cx="173.7" cy="217.4" r="1.900" fill="none" stroke="#fff" stroke-width="1.300"/><rect x="180.7" y="212.8" width="9.2" height="9.2" rx="0.8" fill="#d1d1d1"/><path d="M182.8 214.9l5 5m0-5l-5 5" stroke="#fff" stroke-width="1.500" fill="none"/>
<text x="194.0" y="220.4" class="lg" fill="#222" textLength="35" lengthAdjust="spacingAndGlyphs">不適用</text>
<circle cx="701.3" cy="111.2" r="2.7" fill="#a64ca6"/>
<text x="709.7" y="113.700" style="font-size:11.300px;font-weight:bold" fill="#a64ca6" stroke="#a64ca6" stroke-width="0.350" textLength="51.300" lengthAdjust="spacingAndGlyphs">盤後數據</text>
<text x="645" y="164.5" style="font-size:20.5px;font-weight:500" fill="#000" stroke="#000" stroke-width="0.350" textLength="77.500" lengthAdjust="spacingAndGlyphs">轉多方~</text>
<path d="M12 82.500h6M21.500 82.500h6.500M19.500 74.500v6M19.500 84.500v6" stroke="#58b4f4" stroke-width="1" fill="none"/>
<path d="M14.5 110.500l10.500-9.500" fill="none" stroke="#5a5f66" stroke-width="1"/><circle cx="13.5" cy="111.500" r="1.500" fill="#fff" stroke="#5a5f66"/><circle cx="26" cy="100.500" r="1.500" fill="#fff" stroke="#5a5f66"/>
<path d="M13 137l9-8M16 127l4-3.500M14 128.500l8 7M22 135l5-4.500M18.500 131.500l6-5.500" fill="none" stroke="#5a5f66" stroke-width="1"/><circle cx="13" cy="137.500" r="1.300" fill="#fff" stroke="#5a5f66"/><circle cx="14" cy="128" r="1.300" fill="#fff" stroke="#5a5f66"/><circle cx="22" cy="135.500" r="1.300" fill="#fff" stroke="#5a5f66"/>
<path d="M12.500 160.500c2-1 3-5 5.500-6.500l3.500 3.500c-2 3-6 3.500-9 3zM21 152.500c1 2 3-2 6-3" fill="none" stroke="#5a5f66" stroke-width="1"/>
<text x="19.900" y="183.800" text-anchor="middle" style="font-family:'Liberation Serif',serif;font-size:17px" fill="#7c8087">T</text>
<path d="M14.500 206.500l2.500-10 4 5 4-5.500 2 10.500M17 196.500l9.500 10M25 196l-10 10.500" fill="none" stroke="#5a5f66" stroke-width="1"/><circle cx="14.500" cy="207" r="1.300" fill="#fff" stroke="#5a5f66"/><circle cx="17" cy="196" r="1.300" fill="#fff" stroke="#5a5f66"/><circle cx="25" cy="196" r="1.300" fill="#fff" stroke="#5a5f66"/><circle cx="27" cy="207" r="1.300" fill="#fff" stroke="#5a5f66"/>
<path d="M13 220.500h13M13 227.500h13M13 232h13M19.500 222v9M18 223.500l1.500-1.500 1.500 1.500M18 229.500l1.500 1.500 1.500-1.500" fill="none" stroke="#5a5f66" stroke-width="1"/><circle cx="12.500" cy="220.500" r="1.200" fill="#fff" stroke="#5a5f66"/><circle cx="26.500" cy="227.500" r="1.200" fill="#fff" stroke="#5a5f66"/><circle cx="12.500" cy="232" r="1.200" fill="#fff" stroke="#5a5f66"/>
<path d="M25 250.500h-9M19.500 246l-4.500 4.500 4.500 4.500" fill="none" stroke="#2f3338" stroke-width="2.600"/>
<rect x="2" y="266" width="35" height="1" fill="#e4e6e8"/>
<rect x="2" y="426.500" width="35" height="1" fill="#e4e6e8"/>
<g transform="translate(0,1.200) rotate(-38 19.500 281.500)" opacity="0.85"><rect x="11.500" y="279" width="16" height="5" fill="none" stroke="#5a5f66" stroke-width="1"/><path d="M14.500 279v2.500M17.500 279v2.500M20.500 279v2.500M23.500 279v2.500" fill="none" stroke="#5a5f66" stroke-width="1"/></g>
<circle cx="18.500" cy="305.700" r="5.500" fill="none" stroke="#5a5f66" stroke-width="1"/><path d="M22.500 310.200l3 3M16 305.700h5M18.500 303.200v5" fill="none" stroke="#5a5f66" stroke-width="1"/>
<path d="M14 345.500v-7a5.500 5.500 0 0 1 11 0v7h-3.300v-7a2.200 2.200 0 0 0-4.400 0v7zM14 343h3.300M21.700 343h3.300" fill="none" stroke="#5a5f66" stroke-width="1"/>
<path d="M12.500 366l1-4 7-6.500 3 3-7 6.500zM19 357l3 3" fill="none" stroke="#5a5f66" stroke-width="1"/><rect x="20.500" y="364" width="5.500" height="4.500" fill="#fff" stroke="#5a5f66"/><path d="M21.500 364v-1.500a1.800 1.800 0 0 1 3.600 0" fill="none" stroke="#5a5f66" stroke-width="1"/>
<rect x="14" y="385.500" width="10.500" height="8.500" rx="1" fill="none" stroke="#5a5f66" stroke-width="1"/><path d="M16 385.500v-3a3.200 3.200 0 0 1 6.300-.8" fill="none" stroke="#5a5f66" stroke-width="1"/><circle cx="19.300" cy="390" r="0.900" fill="#5a5f66"/>
<path d="M12.500 411.500c3.500-6 10.500-6 14 0c-3.500 6-10.500 6-14 0z" fill="none" stroke="#5a5f66" stroke-width="1"/><circle cx="19.500" cy="411.500" r="2.500" fill="#5a5f66"/>
<path d="M13 441.500l6.500-4 6.500 4-6.500 4zM13 444l6.500 4 6.500-4M13 446.500l6.500 4 6.500-4" fill="none" stroke="#5a5f66" stroke-width="1"/>
<rect x="15.500" y="463.500" width="8" height="10.500" rx="1.500" fill="none" stroke="#5a5f66" stroke-width="1"/><path d="M14.500 463.500h10M17.500 462.500h4M18 466v6M19.500 466v6M21 466v6" fill="none" stroke="#5a5f66" stroke-width="1"/>
<rect x="34.500" y="522.300" width="4.800" height="17" rx="2" fill="#fff" stroke="#dde2e8" stroke-width="0.800"/><path d="M37.600 528.800l-1.500 2 1.500 2" fill="none" stroke="#9aa5b0" stroke-width="1"/>
<g transform="translate(0,0.7)"><g transform="translate(-1,0)"><rect x="50.500" y="74" width="3" height="8.500" fill="none" stroke="#858a91" stroke-width="1"/><path d="M52 71.500v2.500M52 82.500v2.500M57.500 73.500v2.500M57.500 80.500v2.500" fill="none" stroke="#858a91" stroke-width="1"/><rect x="56" y="75.500" width="3" height="5" fill="none" stroke="#858a91" stroke-width="1"/></g>
<path d="M79.500 74v4.500M73.500 79.500l6-1.500 6 1.500" fill="none" stroke="#858a91" stroke-width="1"/><circle cx="79.500" cy="73" r="1.200" fill="none" stroke="#858a91" stroke-width="1"/><circle cx="79.500" cy="78" r="1.200" fill="#fff" stroke="#858a91"/><path d="M72 81.500a2 2 0 0 0 4 0zM83 81.500a2 2 0 0 0 4 0z" fill="none" stroke="#858a91" stroke-width="1"/><circle cx="74" cy="80.500" r="1.800" fill="none" stroke="#858a91" stroke-width="1"/><circle cx="85" cy="80.500" r="1.800" fill="none" stroke="#858a91" stroke-width="1"/>
<path d="M131.500 80.500c2-3.500 4-3.500 5.500-1.500s3 2 6-1.500" fill="none" stroke="#858a91" stroke-width="1"/>
<rect x="728.500" y="74" width="13" height="9" rx="1.500" fill="none" stroke="#858a91" stroke-width="1"/><path d="M731.500 74l1-1.500h3.500l1 1.500" fill="none" stroke="#858a91" stroke-width="1"/><circle cx="735" cy="78.500" r="2.500" fill="none" stroke="#858a91" stroke-width="1"/>
<circle cx="764" cy="78" r="5.200" fill="none" stroke="#858a91" stroke-width="1.600" stroke-dasharray="2.700 1.400"/><circle cx="764" cy="78" r="4.400" fill="none" stroke="#858a91" stroke-width="1"/><circle cx="764" cy="78" r="1.800" fill="none" stroke="#858a91" stroke-width="1"/>
<path d="M785.500 76v-2.500h2.500M785.500 73.500l3 3M792 73.500h2.500v2.500M794.500 73.500l-3 3M785.500 80v2.500h2.500M785.500 82.500l3-3M794.500 80v2.500h-2.500M794.500 82.500l-3-3" fill="none" stroke="#858a91" stroke-width="1"/></g>
</svg>
<div id="toolbar">
<span class="abs tb" style="left:93px">比較</span>
<span class="abs tb" style="left:149px">技術指標</span>
<span class="abs tb" style="left:211.500px">即時</span>
<span class="abs tb on" style="left:242px;width:36.800px">日線</span>
<span class="abs tb" style="left:285px">週線</span>
<span class="abs tb" style="left:322px">月線</span>
</div>
<div id="foot">
<span class="abs b" style="left:534.500px">20:27:45</span>
<span class="abs" style="left:586px;letter-spacing:-.7px">(UTC+8)</span>
<span class="abs" style="left:635px;color:#b5b5b5">|</span>
<span class="abs" style="left:645px;font-size:11px">%</span>
<span class="abs b" style="left:671px;font-size:13px">對數刻度</span>
<span class="abs" style="left:731px;color:#b5b5b5">|</span>
<span class="abs b" style="left:741px;font-size:13px">自動</span>
<span class="abs" style="left:774px;color:#b5b5b5">|</span>
<svg class="abs" style="left:783px;top:565px" width="12" height="12" viewBox="0 0 12 12"><circle cx="6" cy="6" r="3.600" fill="none" stroke="#b0b0b0" stroke-width="1.800" stroke-dasharray="1.900 0.950"/><circle cx="6" cy="6" r="2.600" fill="none" stroke="#b0b0b0" stroke-width="1.200"/></svg>
</div>
<div id="side">
<div class="abs vline"></div>
<div class="abs nub"></div>
<div class="abs chat">聊天室</div>
<div class="abs ord">玉山證券下單</div>
</div>
</body>
</html>
